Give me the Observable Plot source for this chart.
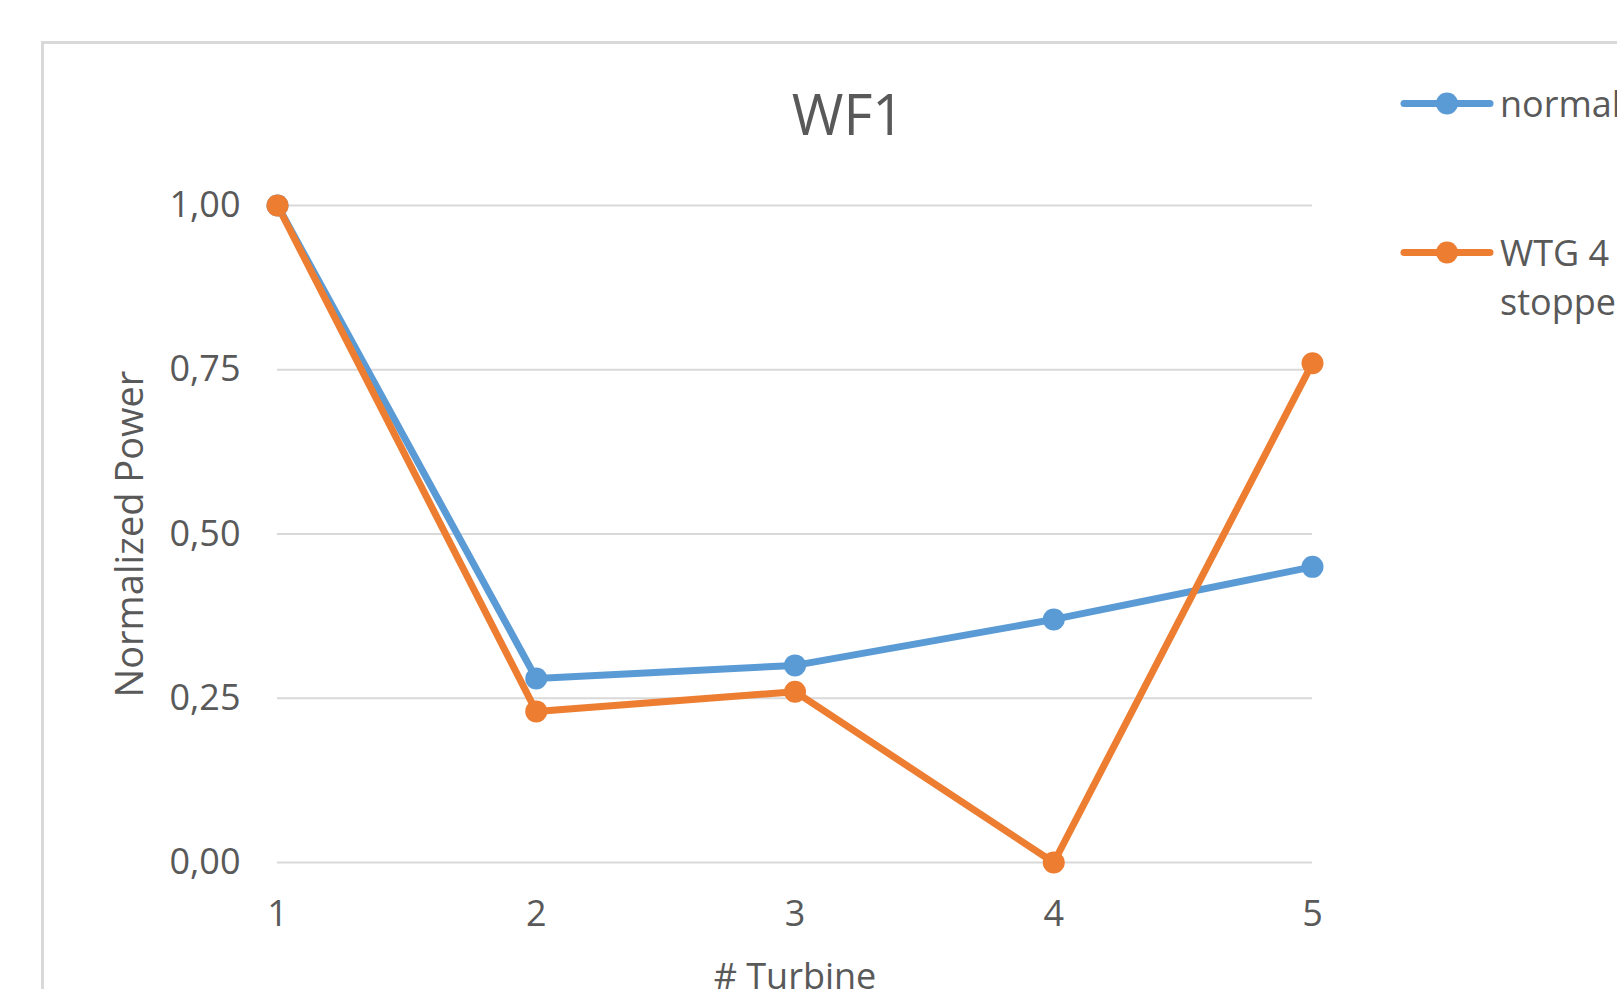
<!DOCTYPE html>
<html>
<head>
<meta charset="utf-8">
<script src="https://cdn.jsdelivr.net/npm/d3@7"></script>
<script src="https://cdn.jsdelivr.net/npm/@observablehq/plot@0.6"></script>
<style>
  html, body { margin: 0; padding: 0; background: #fff; overflow: hidden; }
  body { width: 1617px; height: 989px; position: relative; font-family: "Open Sans", sans-serif; color: #595959; }
  #frame { position: absolute; left: 41px; top: 41px; width: 1700px; height: 1100px; border: 3px solid #d9d9d9; box-sizing: border-box; }
  #chart { position: absolute; left: 0; top: 0; }
  #title { position: absolute; top: 85px; left: 848px; transform: translateX(-50%); font-size: 56px; line-height: 1; }
  .leg { position: absolute; left: 1400px; font-size: 36px; line-height: 49px; white-space: nowrap; }
  .leg svg { position: absolute; left: 0; }
  .leg span { position: absolute; left: 100px; }
</style>
</head>
<body>
<div id="frame"></div>
<div id="chart"></div>
<div id="title">WF1</div>
<div id="legend"></div>
<script>
const turbines = [1, 2, 3, 4, 5];
const normal = [1.00, 0.28, 0.30, 0.37, 0.45];
const stopped = [1.00, 0.23, 0.26, 0.00, 0.76];
const seriesNames = ["normal", "WTG 4 stopped"];
const seriesColors = ["#5B9BD5", "#ED7D31"];
const yTicks = [0, 0.25, 0.5, 0.75, 1];

const rows = [];
turbines.forEach((t, i) => rows.push({turbine: t, power: normal[i], series: seriesNames[0]}));
turbines.forEach((t, i) => rows.push({turbine: t, power: stopped[i], series: seriesNames[1]}));

const fmt = d => d.toFixed(2).replace(".", ",");

const chart = Plot.plot({
  width: 1617,
  height: 989,
  marginLeft: 277,
  marginRight: 305,
  marginTop: 205,
  marginBottom: 127,
  style: {fontFamily: "'Open Sans', sans-serif", background: "transparent", color: "#595959", overflow: "visible"},
  x: {domain: [1, 5]},
  y: {domain: [0, 1]},
  color: {domain: seriesNames, range: seriesColors},
  marks: [
    Plot.ruleY(yTicks, {x1: 1, x2: 5, stroke: "#d9d9d9", strokeWidth: 2}),
    Plot.axisY({ticks: yTicks, tickFormat: fmt, tickSize: 0, tickPadding: 37, fontSize: 36, fill: "#595959", label: null}),
    Plot.axisY({ticks: [], label: "Normalized Power", labelAnchor: "center", labelArrow: "none", labelOffset: 161, fontSize: 38, fill: "#595959"}),
    Plot.axisX({ticks: turbines, tickFormat: d => String(d), tickSize: 0, tickPadding: 38, fontSize: 36, fill: "#595959",
      label: "# Turbine", labelAnchor: "center", labelArrow: "none", labelOffset: 126}),
    Plot.line(rows, {x: "turbine", y: "power", z: "series", stroke: "series", strokeWidth: 7, strokeLinejoin: "round", strokeLinecap: "round"}),
    Plot.dot(rows, {x: "turbine", y: "power", fill: "series", r: 11, stroke: null})
  ]
});
document.getElementById("chart").appendChild(chart);

// legend
const legendTops = [79, 228];
const legendLines = [["normal"], ["WTG 4", "stopped"]];
const legend = document.getElementById("legend");
seriesNames.forEach((name, i) => {
  const div = document.createElement("div");
  div.className = "leg";
  div.style.top = legendTops[i] + "px";
  const svg = d3.create("svg").attr("width", 96).attr("height", 49);
  svg.append("line").attr("x1", 4).attr("x2", 90).attr("y1", 24.5).attr("y2", 24.5)
    .attr("stroke", seriesColors[i]).attr("stroke-width", 7).attr("stroke-linecap", "round");
  svg.append("circle").attr("cx", 47).attr("cy", 24.5).attr("r", 11).attr("fill", seriesColors[i]);
  div.appendChild(svg.node());
  const span = document.createElement("span");
  span.innerHTML = legendLines[i].join("<br>");
  div.appendChild(span);
  legend.appendChild(div);
});
</script>
</body>
</html>
